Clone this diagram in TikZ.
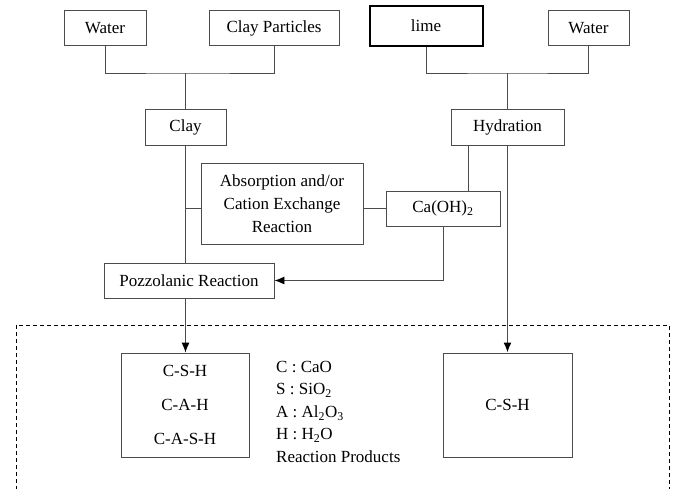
\documentclass[tikz,border=0pt]{standalone}
\usepackage{fontspec}
\setmainfont{Liberation Serif}
\usetikzlibrary{arrows.meta}
\begin{document}
\begin{tikzpicture}[x=1pt,y=-1pt,
  box/.style={draw=black!70,line width=0.9pt,minimum height=35pt,inner sep=2pt,
    font=\fontsize{17}{23}\selectfont,align=center},
  link/.style={draw=black!70,line width=0.9pt},
  arr/.style={link,-{Latex[length=10pt,width=8pt,black]}}]
\useasboundingbox (0,0) rectangle (675,488);

\node[box,minimum width=82pt] (water1) at (105,28) {Water};
\node[box,minimum width=130pt] (part) at (274,28) {Clay Particles};
\node[box,draw=black,line width=2pt,minimum width=113pt,minimum height=40pt] (lime) at (426,25.5) {lime};
\node[box,minimum width=81pt] (water2) at (588.5,28) {Water};

\node[box,minimum width=81pt,minimum height=36pt] (clay) at (185.5,127) {Clay};
\node[box,minimum width=113pt,minimum height=36pt] (hydr) at (507.5,127) {Hydration};
\node[box,minimum width=162pt,minimum height=81pt] (absorp) at (282,203.5)
  {Absorption and/or\\Cation Exchange\\Reaction};
\node[box,minimum width=114pt] (caoh) at (443,208.5) {Ca(OH)\textsubscript{2}};
\node[box,minimum width=170pt] (pozz) at (189,280.5) {Pozzolanic Reaction};

\node[box,minimum width=128pt,minimum height=104pt,font=\fontsize{17}{34}\selectfont] (prodA) at (185,405)
  {C-S-H\\C-A-H\\C-A-S-H};
\node[box,minimum width=129pt,minimum height=104pt] (prodB) at (507.5,405) {C-S-H};
\node[anchor=north west,align=left,inner sep=0pt,font=\fontsize{17}{22.5}\selectfont] (legend) at (276,361)
  {C : CaO\\S : SiO\textsubscript{2}\\A : Al\textsubscript{2}O\textsubscript{3}\\H : H\textsubscript{2}O\\Reaction Products};

\coordinate (jl) at (185.5,73);
\coordinate (jr) at (507.5,73);
\draw[link] (water1.south) |- (jl) -| (part.south);
\draw[link] (jl) -- (clay.north);
\draw[link] (lime.south) |- (jr) -| (water2.south);
\draw[link] (jr) -- (hydr.north);

\draw[link] (clay.south) -- (clay.south |- pozz.north);
\draw[link] (clay.south |- caoh.west) -- (absorp.west |- caoh.west);
\draw[link] (absorp.east |- caoh.west) -- (caoh.west);
\draw[link] ([xshift=-39.5pt]hydr.south) -- ([xshift=-39.5pt]hydr.south |- caoh.north);
\draw[arr] (caoh.south) |- (pozz.east);
\draw[arr] (clay.south |- pozz.south) -- (clay.south |- prodA.north);
\draw[arr,line width=1.6pt] (hydr.south) -- (prodB.north);

\draw[link,black,dash pattern=on 4pt off 3pt] (16,490) -- (16,325) -- (669,325) -- (669,490);
\end{tikzpicture}
\end{document}
